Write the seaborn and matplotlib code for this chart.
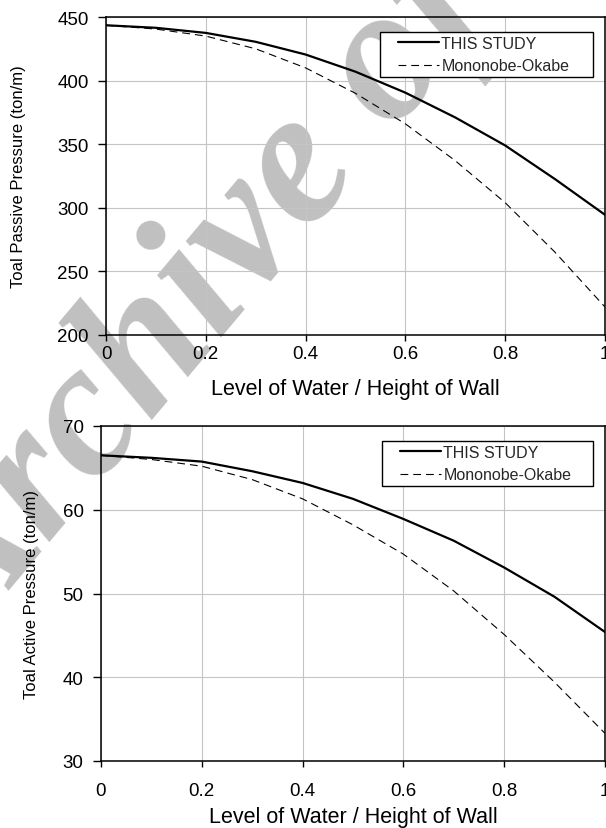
import matplotlib
matplotlib.use("Agg")
import matplotlib.pyplot as plt
from matplotlib.lines import Line2D
from matplotlib.legend_handler import HandlerLine2D
import seaborn as sns
import pandas as pd

# ---- data ----
ratio = [0.0, 0.1, 0.2, 0.3, 0.4, 0.5, 0.6, 0.7, 0.8, 0.9, 1.0]
passive_this = [443.5, 441.5, 437.5, 430.5, 420.5, 407.0, 390.5, 371.0, 349.0, 322.5, 294.5]
passive_mo = [443.5, 440.5, 435.0, 425.0, 410.0, 390.0, 366.0, 337.0, 304.0, 265.0, 222.0]
active_this = [66.5, 66.2, 65.75, 64.6, 63.2, 61.3, 58.9, 56.3, 53.1, 49.6, 45.4]
active_mo = [66.5, 66.0, 65.2, 63.6, 61.3, 58.2, 54.7, 50.3, 45.1, 39.4, 33.3]
series_names = ["THIS STUDY", "Mononobe-Okabe"]
x_ticks = [0, 0.2, 0.4, 0.6, 0.8, 1.0]
x_ticklabels = ["0", "0.2", "0.4", "0.6", "0.8", "1"]
passive_yticks = [200, 250, 300, 350, 400, 450]
active_yticks = [30, 40, 50, 60, 70]
xlabel = "Level of Water / Height of Wall"
ylabel_top = "Toal Passive Pressure (ton/m)"
ylabel_bottom = "Toal Active Pressure (ton/m)"
watermark = "Archive of SID"

sns.set_theme(style="ticks")
plt.rcParams["font.family"] = ["Liberation Sans", "DejaVu Sans"]

fig = plt.figure(figsize=(6.06, 8.29), dpi=100)
fig.patch.set_facecolor("white")

ax1 = fig.add_axes([106 / 606, 1 - 336 / 829, 499 / 606, 318 / 829])
ax2 = fig.add_axes([101 / 606, 1 - 762 / 829, 504 / 606, 335 / 829])

# watermark behind the axes
fig.text(-0.05, 0.216, watermark, rotation=50, rotation_mode="anchor",
         ha="left", va="baseline", fontsize=138, color="#c0c0c0",
         family="Liberation Serif", style="italic", weight="bold", zorder=-1)


def build(vals_a, vals_b):
    return pd.DataFrame({
        "x": ratio + ratio,
        "y": vals_a + vals_b,
        "series": [series_names[0]] * len(ratio) + [series_names[1]] * len(ratio),
    })


panels = [
    (ax1, build(passive_this, passive_mo), passive_yticks, ylabel_top, -0.160, 5, 12,
     ((380 - 106) / 499, 0.5, 213 / 499, 0.953 - 0.5)),
    (ax2, build(active_this, active_mo), active_yticks, ylabel_bottom, -0.123, 13, 5,
     ((382 - 101) / 504, 0.5, 211 / 504, 0.955 - 0.5)),
]

for ax, df, yticks, ylab, ylx, xpad, lpad, lbox in panels:
    ax.set_facecolor("none")
    sns.lineplot(data=df, x="x", y="y", hue="series", style="series",
                 palette=["black", "black"],
                 dashes={series_names[0]: "", series_names[1]: (7, 4.5)},
                 size="series", sizes={series_names[0]: 1.6, series_names[1]: 0.8},
                 ax=ax, zorder=3)
    ax.set_xlim(0, 1)
    ax.set_ylim(yticks[0], yticks[-1])
    ax.set_xticks(x_ticks)
    ax.set_xticklabels(x_ticklabels)
    ax.set_yticks(yticks)
    ax.grid(True, color="#c4c4c4", lw=0.8, zorder=0)
    ax.set_axisbelow(True)
    for s in ax.spines.values():
        s.set_color("black")
        s.set_linewidth(1.1)
        s.set_visible(True)
    ax.tick_params(axis="both", direction="out", color="black", width=1.0,
                   labelsize=13.5, labelcolor="black")
    ax.tick_params(axis="y", length=5.5, pad=7)
    ax.tick_params(axis="x", length=4, pad=xpad - 2)
    ax.set_xlabel(xlabel, fontsize=15.5, labelpad=lpad, color="black")
    ax.set_ylabel(ylab, fontsize=12, color="black")
    ax.yaxis.set_label_coords(ylx, 0.5)
    handles, labels = ax.get_legend_handles_labels()
    leg = ax.legend(handles=handles, labels=labels,
                    loc="upper right", bbox_to_anchor=lbox, mode="expand",
                    borderaxespad=0, frameon=True, fancybox=False, fontsize=11.5,
                    handlelength=3.45, handletextpad=0.15, borderpad=0.25,
                    labelspacing=0.45,
                    handler_map={Line2D: HandlerLine2D(xpad=0.9)})
    leg.get_frame().set_edgecolor("black")
    leg.get_frame().set_linewidth(1.0)
    leg.get_frame().set_facecolor("white")
    leg.get_frame().set_alpha(1)

fig.savefig("out.png", dpi=100, facecolor="white")
